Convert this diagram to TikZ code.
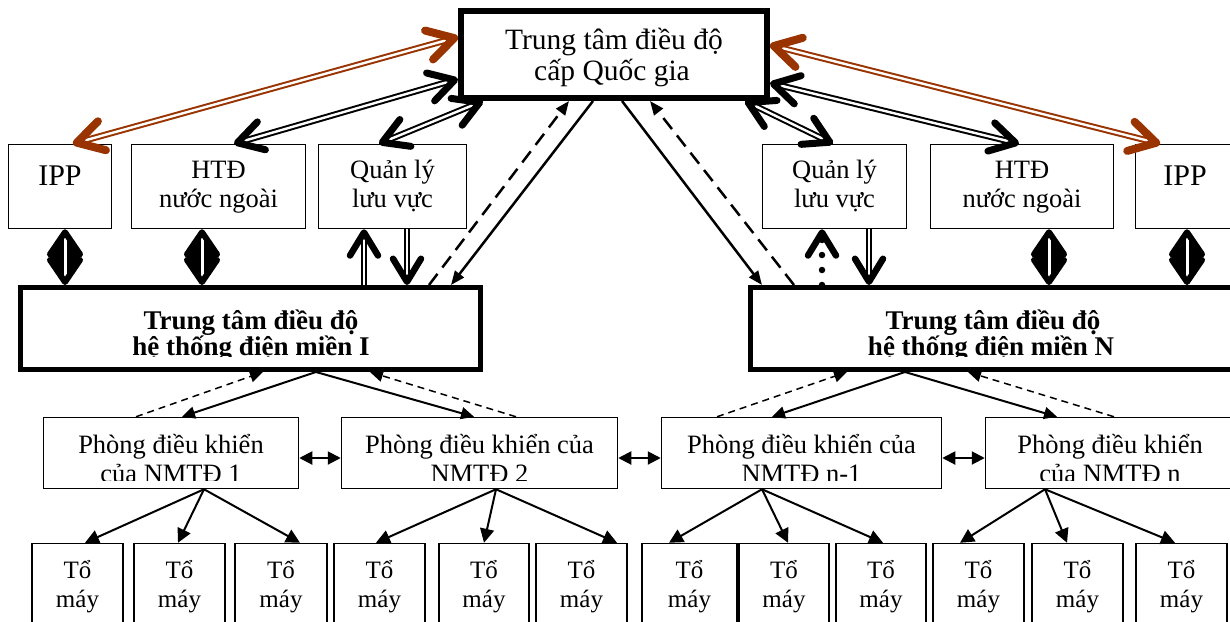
\documentclass[tikz,border=0pt]{standalone}
\usepackage{fontspec}
\setmainfont{Liberation Serif}
\usetikzlibrary{arrows.meta}
\definecolor{linkbrown}{RGB}{153,51,0}
\newcommand\fs[1]{\fontsize{#1}{#1}\selectfont}
% \mkbox{style}{name}{x1}{y1}{x2}{y2}: empty box whose border runs through the two corners
\newcommand\mkbox[6]{\node[#1, minimum width={(#5-#3)*1pt}, minimum height={(#6-#4)*1pt}] (#2) at ({(#3+#5)/2},{(#4+#6)/2}) {};}
\tikzset{
  vbarb/.tip={Straight Barb[length=23pt 0 0, width=28pt 0 0, line width=6.5pt 0 0, round]},
  kbarb/.tip={Straight Barb[length=25pt 0 0, width=29pt 0 0, line width=7pt 0 0, round]},
  bbarb/.tip={Straight Barb[length=26pt 0 0, width=30pt 0 0, line width=8pt 0 0, round]},
  dbarb/.tip={Straight Barb[length=22pt 0 0, width=30pt 0 0, line width=6pt 0 0, round, color=black]},
  dtri/.tip={Triangle[length=29pt 0 0, width=31pt 0 0]},
  ftri/.tip={Triangle[length=14pt 0 0, width=11pt 0 0]},
  stri/.tip={Triangle[length=13pt 0 0, width=12pt 0 0]},
  ptri/.tip={Triangle[length=13pt 0 0, width=13pt 0 0]},
  htri/.tip={Triangle[length=14pt 0 0, width=14pt 0 0]},
}
\begin{document}
\begin{tikzpicture}[x=1pt,y=-1pt,
  thinbox/.style={draw, rectangle, inner sep=0pt, line width=1.5pt},
  heavybox/.style={draw, rectangle, inner sep=0pt, line width=5pt},
  topbox/.style={heavybox, line width=6pt},
  txt/.style={anchor=base, inner sep=0pt},
  dbl/.style={double=white, double distance=2.6pt, line width=1.3pt},
  dblheavy/.style={double=white, double distance=2.4pt, line width=2pt},
  biglink/.style={dblheavy, {kbarb}-{kbarb}},
  brownlink/.style={dblheavy, draw=linkbrown, {bbarb}-{bbarb}},
  uplink/.style={dbl, -{vbarb}},
  dotlink/.style={line width=6.5pt, line cap=round, dash pattern=on 0pt off 15pt, -{vbarb}},
  dmdfill/.style={line width=1pt, {dtri}-{dtri}},
  dmd/.style={draw=white, line width=3pt, {dbarb}-{dbarb}},
  cmd/.style={line width=2.5pt, -{ftri}},
  cmddash/.style={line width=2.5pt, dash pattern=on 14pt off 8pt, -{ftri}},
  sub/.style={line width=2pt, -{stri}},
  subdash/.style={line width=1.5pt, dash pattern=on 7pt off 5pt, -{stri}},
  peer/.style={line width=2pt, {ptri}-{ptri}},
  unit/.style={line width=2pt, -{htri}},
]
\clip (0,0) rectangle (1230,621);
\fill[white] (0,0) rectangle (1230,621);

% national dispatch centre
\mkbox{topbox}{top}{461}{11}{767}{98}
\node[txt, font=\fs{29.5}] (topA) at (614,49) {Trung tâm điều độ};
\node[txt, font=\fs{29.5}] (topB) at (612,80) {cấp Quốc gia};

% partners of the national centre
\mkbox{thinbox}{ippL}{8.5}{144.5}{111.5}{228.5}
\mkbox{thinbox}{htdL}{131.5}{144.5}{305.5}{228.5}
\mkbox{thinbox}{qlL}{318.5}{144.5}{466.5}{228.5}
\mkbox{thinbox}{qlR}{762.5}{144.5}{906.5}{228.5}
\mkbox{thinbox}{htdR}{930.5}{144.5}{1113.5}{228.5}
\mkbox{thinbox}{ippR}{1135.5}{144.5}{1245}{228.5}
\node[txt, font=\fs{30}] (ippLt) at (60,185) {IPP};
\node[txt, font=\fs{30}] (ippRt) at (1185,185) {IPP};
\node[txt, font=\fs{26.5}] (htdLa) at (218.5,178) {HTĐ};
\node[txt, font=\fs{26.5}] (htdLb) at (218.5,207) {nước ngoài};
\node[txt, font=\fs{26.5}] (qlLa) at (392.5,178) {Quản lý};
\node[txt, font=\fs{26.5}] (qlLb) at (392.5,207) {lưu vực};
\node[txt, font=\fs{26.5}] (qlRa) at (834.5,178) {Quản lý};
\node[txt, font=\fs{26.5}] (qlRb) at (834.5,207) {lưu vực};
\node[txt, font=\fs{26.5}] (htdRa) at (1022,178) {HTĐ};
\node[txt, font=\fs{26.5}] (htdRb) at (1022,207) {nước ngoài};

% regional dispatch centres
\mkbox{heavybox}{regL}{20.5}{287.5}{480.5}{369.5}
\mkbox{heavybox}{regR}{750.5}{287.5}{1245}{369.5}
\begin{scope}
  \clip (0,0) rectangle (1230,356.3);
  \node[txt, font=\bfseries\fs{27}] (regLa) at (251,329) {Trung tâm điều độ};
  \node[txt, font=\bfseries\fs{27}] (regLb) at (251,355.5) {hệ thống điện miền I};
  \node[txt, font=\bfseries\fs{27}] (regRa) at (993,329) {Trung tâm điều độ};
  \node[txt, font=\bfseries\fs{27}] (regRb) at (991,355.5) {hệ thống điện miền N};
\end{scope}

% plant control rooms
\mkbox{thinbox}{ph1}{43.5}{417.5}{298.5}{488.5}
\mkbox{thinbox}{ph2}{341.5}{417.5}{617.5}{488.5}
\mkbox{thinbox}{ph3}{661.5}{417.5}{941.5}{488.5}
\mkbox{thinbox}{ph4}{985.5}{417.5}{1245}{488.5}
\begin{scope}
  \clip (0,0) rectangle (1230,480);
  \node[txt, font=\fs{26.5}] (ph1a) at (171,453) {Phòng điều khiển};
  \node[txt, font=\fs{26.5}] (ph1b) at (171,482.5) {của NMTĐ 1};
  \node[txt, font=\fs{26.5}] (ph2a) at (479.5,453) {Phòng điều khiển của};
  \node[txt, font=\fs{26.5}] (ph2b) at (479.5,482.5) {NMTĐ 2};
  \node[txt, font=\fs{26.5}] (ph3a) at (801.5,453) {Phòng điều khiển của};
  \node[txt, font=\fs{26.5}] (ph3b) at (801.5,482.5) {NMTĐ n-1};
  \node[txt, font=\fs{26.5}] (ph4a) at (1110,453) {Phòng điều khiển};
  \node[txt, font=\fs{26.5}] (ph4b) at (1110,482.5) {của NMTĐ n};
\end{scope}

% generating units
\foreach \n/\a/\b in {ta/32/123, tb/134/225, tc/235/327, td/334/425, te/439/529, tf/536/627,
                      tg/642/737, th/739/829, ti/836/926, tj/933/1024, tk/1032/1123, tl/1136/1227} {
  \mkbox{thinbox}{\n}{\a}{543.5}{\b}{640}
  \node[txt, font=\fs{25}] (\n-1) at ({(\a+\b)/2},578) {Tổ};
  \node[txt, font=\fs{25}] (\n-2) at ({(\a+\b)/2},607) {máy};
}

% links of the national centre with its partners
\draw[brownlink] (ippL.north -| 73,0) -- (top.west |- 0,37);
\draw[biglink] (htdL.north -| 234,0) -- (top.west |- 0,79);
\draw[biglink] (qlL.north -| 379,0) -- (top.south -| 483,0);
\draw[biglink] (qlR.north -| 833,0) -- (top.south -| 745,0);
\draw[biglink] (htdR.north -| 1019,0) -- (top.east |- 0,83);
\draw[brownlink] (ippR.north -| 1160,0) -- (top.east |- 0,45);

% links of the partners with the regional centres
\draw[dmdfill] (ippL.south -| 65,0) -- (regL.north -| 65,0);
\draw[dmd] (ippL.south -| 65,0) -- (regL.north -| 65,0);
\draw[dmdfill] (htdL.south -| 202,0) -- (regL.north -| 202,0);
\draw[dmd] (htdL.south -| 202,0) -- (regL.north -| 202,0);
\draw[uplink] (regL.north -| 364,0) -- (qlL.south -| 364,0);
\draw[uplink] (qlL.south -| 407,0) -- (regL.north -| 407,0);
\draw[dotlink] (regR.north -| 822,0) -- (qlR.south -| 822,0);
\draw[uplink] (qlR.south -| 869,0) -- (regR.north -| 869,0);
\draw[dmdfill] (htdR.south -| 1049,0) -- (regR.north -| 1049,0);
\draw[dmd] (htdR.south -| 1049,0) -- (regR.north -| 1049,0);
\draw[dmdfill] (ippR.south -| 1187,0) -- (regR.north -| 1187,0);
\draw[dmd] (ippR.south -| 1187,0) -- (regR.north -| 1187,0);

% national centre to regional centres
\draw[cmd] (top.south -| 593,0) -- (regL.north -| 451,0);
\draw[cmddash] (regL.north -| 429,0) -- (top.south -| 569,0);
\draw[cmd] (top.south -| 622,0) -- (regR.north -| 762,0);
\draw[cmddash] (regR.north -| 794,0) -- (top.south -| 650,0);

% regional centres to plant control rooms
\draw[sub] (regL.south -| 316,0) -- (ph1.north -| 182,0);
\draw[sub] (regL.south -| 316,0) -- (ph2.north -| 474,0);
\draw[subdash] (ph1.north -| 136,0) -- (regL.south -| 263,0);
\draw[subdash] (ph2.north -| 516,0) -- (regL.south -| 370,0);
\draw[sub] (regR.south -| 905,0) -- (ph3.north -| 772,0);
\draw[sub] (regR.south -| 905,0) -- (ph4.north -| 1057,0);
\draw[subdash] (ph3.north -| 717,0) -- (regR.south -| 847,0);
\draw[subdash] (ph4.north -| 1114,0) -- (regR.south -| 968,0);

% control rooms among themselves
\draw[peer] (ph1.east |- 0,458) -- (ph2.west |- 0,458);
\draw[peer] (ph2.east |- 0,458) -- (ph3.west |- 0,458);
\draw[peer] (ph3.east |- 0,458) -- (ph4.west |- 0,458);

% control rooms to generating units
\foreach \src/\apex/\dst/\tip in {ph1/204/ta/85, ph1/204/tb/178, ph1/204/tc/300,
                                  ph2/496/td/376, ph2/496/te/484, ph2/496/tf/617,
                                  ph3/762/tg/669, ph3/762/th/788, ph3/762/ti/883,
                                  ph4/1045/tj/960, ph4/1045/tk/1067, ph4/1045/tl/1175} {
  \draw[unit] (\src.south -| \apex,0) -- (\dst.north -| \tip,0);
}
\end{tikzpicture}
\end{document}
